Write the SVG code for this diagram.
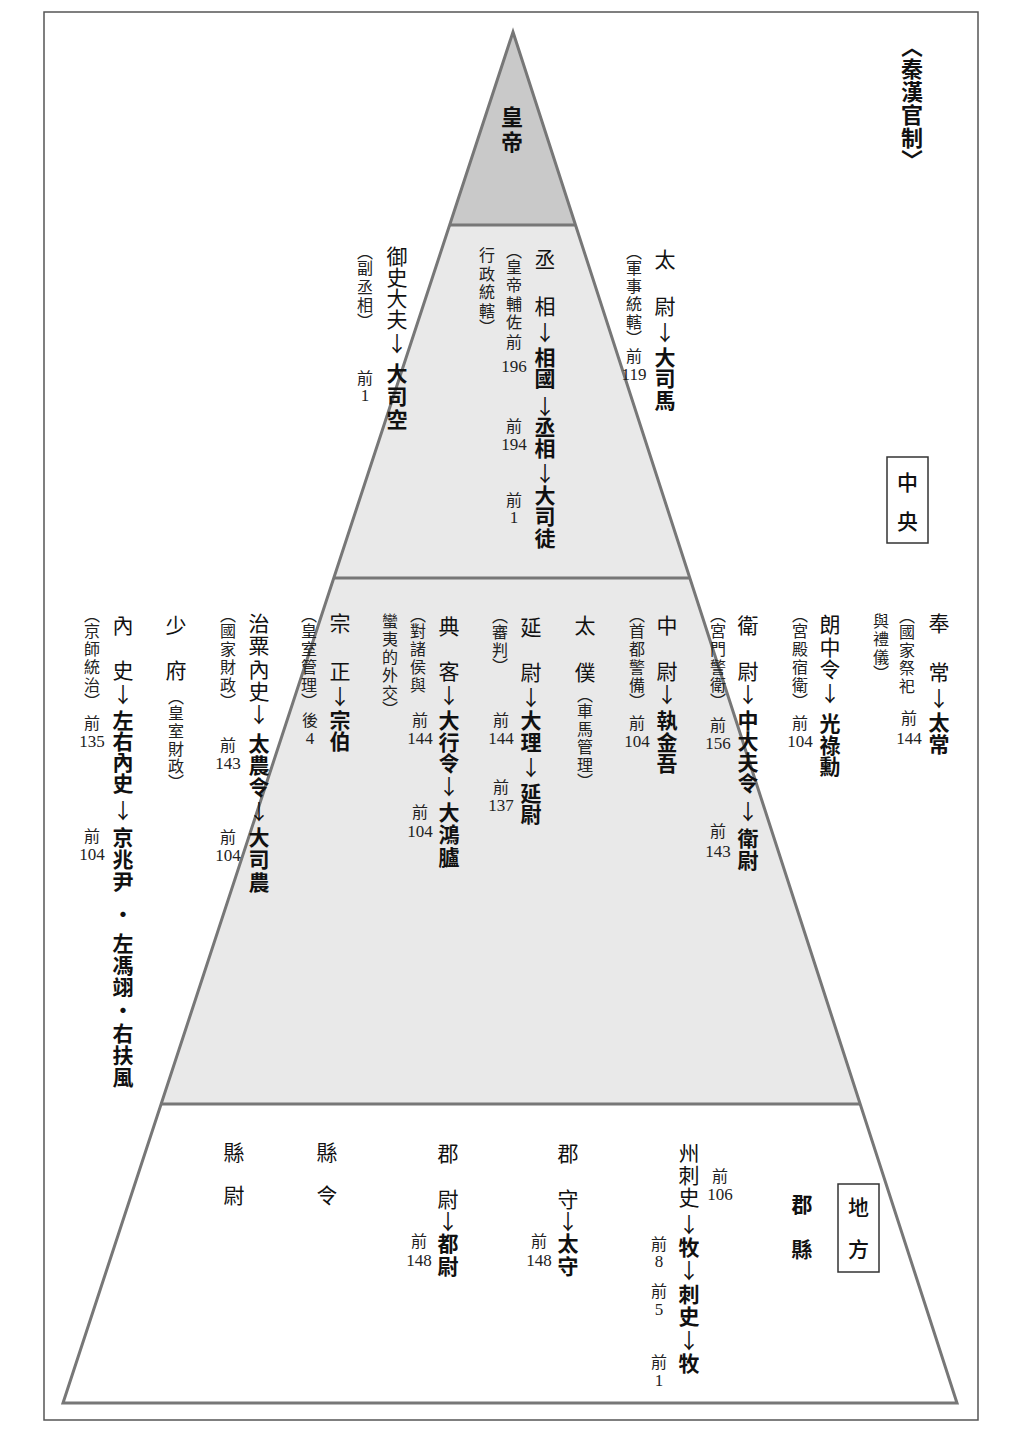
<svg xmlns="http://www.w3.org/2000/svg" width="1024" height="1433" viewBox="0 0 1024 1433">
<style>
text{font-family:"Noto Sans CJK TC","Noto Sans CJK SC",sans-serif;fill:#111;text-anchor:middle;dominant-baseline:central}
.v{writing-mode:vertical-rl;text-orientation:upright;text-anchor:start}
.m{font-size:21px;font-weight:400}
.b{font-weight:700}
.s{font-size:16px;font-weight:400;fill:#222}
.n{font-family:"Liberation Serif",serif;font-size:17px;fill:#222}
.t{font-size:22px;font-weight:700}
.box{fill:none;stroke:#333;stroke-width:1.5}
.edge{fill:none;stroke:#777;stroke-width:3;stroke-linejoin:miter}
</style>
<rect x="0" y="0" width="1024" height="1433" fill="#fff"/>
<rect x="44" y="12" width="934" height="1408" fill="none" stroke="#555" stroke-width="1.5"/>
<g id="pyramid">
<polygon points="513,32 449.7,225 575.5,225" fill="#c9c9c9"/>
<polygon points="449.7,225 575.5,225 689.8,578 333.8,578" fill="#e9e9e9"/>
<polygon points="333.8,578 689.8,578 860.6,1104 160.7,1104" fill="#e9e9e9"/>
<polygon points="160.7,1104 860.6,1104 957,1403 63,1403" fill="#fff"/>
</g>
<g id="connectors">
<polygon class="edge" points="513,32 957,1403 63,1403"/>
<line class="edge" x1="449.7" y1="225" x2="575.5" y2="225"/>
<line class="edge" x1="333.8" y1="578" x2="689.8" y2="578"/>
<line class="edge" x1="160.7" y1="1104" x2="860.6" y2="1104"/>
</g>
<g id="title"><text class="v t" x="912" y="36" dy="0 0 1 1 1 0">〈秦漢官制〉</text></g>
<g id="zhongyang"><rect class="box" x="887" y="457" width="41" height="86"/><text class="v m" style="font-weight:500" x="907.5" y="471.5" dy="0 18">中央</text></g>
<g id="difang"><rect class="box" x="838" y="1184" width="41" height="88"/><text class="v m" style="font-weight:500" x="858.5" y="1196.5" dy="0 21">地方</text></g>
<g id="junxian"><text class="v m b" x="802" y="1193.5" dy="0 24">郡縣</text></g>
<g id="huangdi"><text class="v t" x="512" y="106" dy="0 3">皇帝</text></g>

<g id="taiwei">
<text class="v m" x="665" y="248.5" dy="0 26 5 4 0 1">太尉↓<tspan class="b">大司馬</tspan></text>
<text class="v s" x="634" y="244" dy="0 0 2 2 2 0">（軍事統轄）</text>
<text class="v s" x="634" y="348">前</text>
<text class="n" x="634" y="374">119</text>
</g>

<g id="chengxiang">
<text class="v m" x="545" y="248.5" dy="0 26 5 4 0 7 0 0 4 1 0 1">丞相↓<tspan class="b">相國</tspan>↓<tspan class="b">丞相</tspan>↓<tspan class="b">大司徒</tspan></text>
<text class="v s" x="514" y="243" dy="0 0 2 3 2">（皇帝輔佐</text>
<text class="v s" x="487" y="247" dy="0 3 2 3 0">行政統轄）</text>
<text class="v s" x="514" y="334">前</text>
<text class="n" x="514" y="366">196</text>
<text class="v s" x="514" y="418">前</text>
<text class="n" x="514" y="444">194</text>
<text class="v s" x="514" y="492">前</text>
<text class="n" x="514" y="517">1</text>
</g>

<g id="yushi">
<text class="v m" x="397" y="245.5" dy="0 0 0 0 3 9 2 2">御史大夫↓<tspan class="b">大司空</tspan></text>
<text class="v s" x="365" y="244" dy="0 0 3 2 0">（副丞相）</text>
<text class="v s" x="365" y="370">前</text>
<text class="n" x="365" y="395">1</text>
</g>

<g id="fengchang">
<text class="v m" x="939" y="612.5" dy="0 28 5 3 1">奉常↓<tspan class="b">太常</tspan></text>
<text class="v s" x="907" y="608" dy="0 0 2 2 2">（國家祭祀</text>
<text class="v s" x="881" y="613" dy="0 2 2 0">與禮儀）</text>
<text class="v s" x="909" y="710">前</text>
<text class="n" x="909" y="738">144</text>
</g>

<g id="langzhongling">
<text class="v m" x="830" y="613.5" dy="0 2 1 3 9 1 0">朗中令↓<tspan class="b">光祿勳</tspan></text>
<text class="v s" x="800" y="607" dy="0 0 2 2 2 0">（宮殿宿衛）</text>
<text class="v s" x="800" y="715">前</text>
<text class="n" x="800" y="741">104</text>
</g>

<g id="weiwei">
<text class="v m" x="748" y="614.5" dy="0 25 2 5 0 0 0 7 6 1">衛尉↓<tspan class="b">中大夫令</tspan>↓<tspan class="b">衛尉</tspan></text>
<text class="v s" x="718" y="607" dy="0 0 2 2 2 0">（宮門警衛）</text>
<text class="v s" x="718" y="717">前</text>
<text class="n" x="718" y="743">156</text>
<text class="v s" x="718" y="823">前</text>
<text class="n" x="718" y="851">143</text>
</g>

<g id="zhongwei">
<text class="v m" x="667" y="614.5" dy="0 25 2 5 1 0">中尉↓<tspan class="b">執金吾</tspan></text>
<text class="v s" x="637" y="607" dy="0 0 2 2 2 0">（首都警備）</text>
<text class="v s" x="637" y="715">前</text>
<text class="n" x="637" y="741">104</text>
</g>

<g id="taipu">
<text class="v m" x="585" y="614.5" dy="0 26 4.5 0 2 2 2 0">太僕<tspan class="s">（車馬管理）</tspan></text>
</g>

<g id="tingwei">
<text class="v m" x="531" y="616.5" dy="0 24 4 2 1 4 5 0">延尉↓<tspan class="b">大理</tspan>↓<tspan class="b">延尉</tspan></text>
<text class="v s" x="500" y="608" dy="0 0 2 0">（審判）</text>
<text class="v s" x="501" y="712">前</text>
<text class="n" x="501" y="738">144</text>
<text class="v s" x="501" y="779">前</text>
<text class="n" x="501" y="805">137</text>
</g>

<g id="dianke">
<text class="v m" x="449" y="615.5" dy="0 24 3 4 1 0 2 5 1 2">典客↓<tspan class="b">大行令</tspan>↓<tspan class="b">大鴻臚</tspan></text>
<text class="v s" x="418" y="607" dy="0 0 2 2 2">（對諸侯與</text>
<text class="v s" x="390" y="613" dy="0 2 2 2 2 0">蠻夷的外交）</text>
<text class="v s" x="420" y="712">前</text>
<text class="n" x="420" y="738">144</text>
<text class="v s" x="420" y="804">前</text>
<text class="n" x="420" y="831">104</text>
</g>

<g id="zongzheng">
<text class="v m" x="340" y="612.5" dy="0 27 4 3 0">宗正↓<tspan class="b">宗伯</tspan></text>
<text class="v s" x="309" y="607" dy="0 0 2 2 2 0">（皇室管理）</text>
<text class="v s" x="310" y="712">後</text>
<text class="n" x="310" y="738">4</text>
</g>

<g id="zhisuneishi">
<text class="v m" x="259" y="612.5" dy="0 1 3 1 2 8 1 1 3 5 1 2">治粟內史↓<tspan class="b">太農令</tspan>↓<tspan class="b">大司農</tspan></text>
<text class="v s" x="228" y="607" dy="0 0 2 2 2 0">（國家財政）</text>
<text class="v s" x="228" y="737">前</text>
<text class="n" x="228" y="763">143</text>
<text class="v s" x="228" y="829">前</text>
<text class="n" x="228" y="855">104</text>
</g>

<g id="shaofu">
<text class="v m" x="176" y="614.5" dy="0 24 8.5 0 2 2 1 0">少府<tspan class="s">（皇室財政）</tspan></text>
</g>

<g id="neishi">
<text class="v m" x="123" y="614.5" dy="0 24 3 5 0 0 0 6 6 1 1 12 8 1 1 2 2 1 1">內史↓<tspan class="b">左右內史</tspan>↓<tspan class="b">京兆尹・左馮翊・右扶風</tspan></text>
<text class="v s" x="92" y="607" dy="0 0 2 2 2 0">（京師統治）</text>
<text class="v s" x="92" y="715">前</text>
<text class="n" x="92" y="741">135</text>
<text class="v s" x="92" y="828">前</text>
<text class="n" x="92" y="854">104</text>
</g>

<g id="xianwei"><text class="v m" x="234" y="1141.5" dy="0 22">縣尉</text></g>
<g id="xianling"><text class="v m" x="327" y="1141.5" dy="0 22">縣令</text></g>

<g id="junwei">
<text class="v m" x="448" y="1142.5" dy="0 25 1 1 2">郡尉↓<tspan class="b">都尉</tspan></text>
<text class="v s" x="419" y="1233">前</text>
<text class="n" x="419" y="1260">148</text>
</g>

<g id="junshou">
<text class="v m" x="568" y="1142.5" dy="0 25 1 1 2">郡守↓<tspan class="b">太守</tspan></text>
<text class="v s" x="539" y="1233">前</text>
<text class="n" x="539" y="1260">148</text>
</g>

<g id="cishi">
<text class="v m" x="689" y="1142.5" dy="0 1 1 6 2 2 3 1 3 2">州刺史↓<tspan class="b">牧</tspan>↓<tspan class="b">刺史</tspan>↓<tspan class="b">牧</tspan></text>
<text class="v s" x="720" y="1168">前</text>
<text class="n" x="720" y="1194">106</text>
<text class="v s" x="659" y="1236">前</text>
<text class="n" x="659" y="1261">8</text>
<text class="v s" x="659" y="1283">前</text>
<text class="n" x="659" y="1309">5</text>
<text class="v s" x="659" y="1354">前</text>
<text class="n" x="659" y="1380">1</text>
</g>
</svg>
